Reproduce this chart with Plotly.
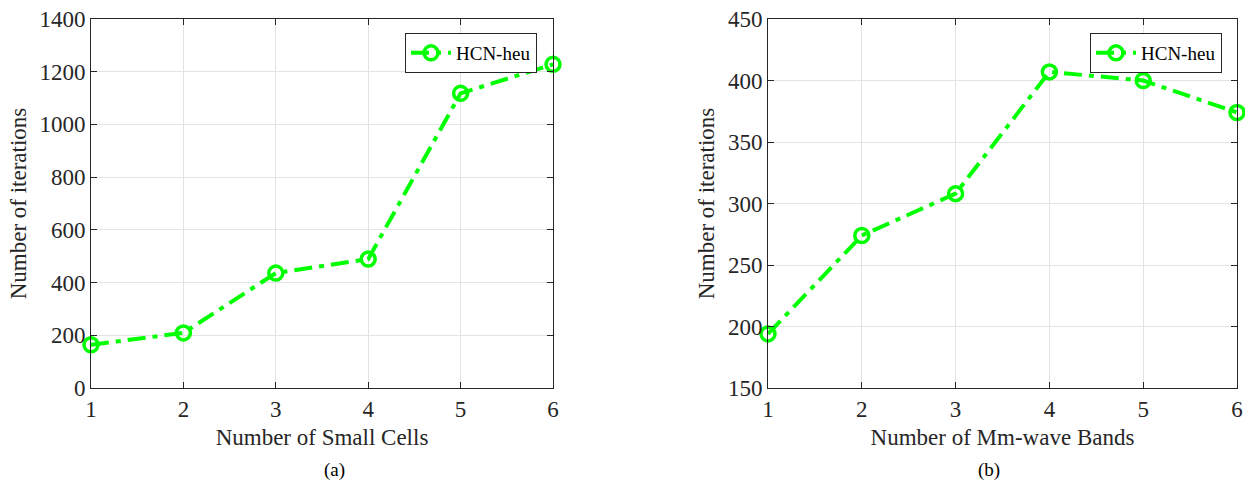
import plotly.graph_objects as go

x_a = [1, 2, 3, 4, 5, 6]
y_a = [164, 209, 436, 489, 1118, 1228]
x_b = [1, 2, 3, 4, 5, 6]
y_b = [194, 274, 308, 407, 400, 374]
series_name = "HCN-heu"
xlabel_a = "Number of Small Cells"
xlabel_b = "Number of Mm-wave Bands"
ylabel = "Number of iterations"

W, H = 1245, 487
GREEN = "#00ff00"
FONT = "Liberation Serif, Times New Roman, DejaVu Serif, serif"

fig = go.Figure()
for xs, ys, xa, ya, lg in [(x_a, y_a, "x", "y", "legend"), (x_b, y_b, "x2", "y2", "legend2")]:
    fig.add_trace(go.Scatter(
        x=xs, y=ys, xaxis=xa, yaxis=ya, name=series_name, legend=lg,
        mode="lines+markers", cliponaxis=False,
        line=dict(color=GREEN, width=4, dash="18px,7px,5px,7px"),
        marker=dict(symbol="circle-open", size=14, color=GREEN, line=dict(width=3.5, color=GREEN)),
    ))

ydom = [(H - 388) / H, (H - 19) / H]
common_axis = dict(
    showline=True, linecolor="#262626", linewidth=1, mirror="ticks",
    ticks="inside", ticklen=6, tickcolor="#262626", automargin=False,
    showgrid=True, gridcolor="#e3e3e3", gridwidth=1, zeroline=False,
    tickfont=dict(family=FONT, size=23, color="#262626"),
)

fig.update_layout(
    width=W, height=H, margin=dict(l=0, r=0, t=0, b=0, autoexpand=False),
    paper_bgcolor="white", plot_bgcolor="white",
    font=dict(family=FONT, color="#262626"),
    xaxis=dict(domain=[91 / W, 553 / W], range=[1, 6], dtick=1, anchor="y",
               title=dict(text=xlabel_a, font=dict(family=FONT, size=23), standoff=8), **common_axis),
    yaxis=dict(domain=ydom, range=[0, 1400], dtick=200, anchor="x",
               title=dict(text=ylabel, font=dict(family=FONT, size=23), standoff=6), **common_axis),
    xaxis2=dict(domain=[768 / W, 1237 / W], range=[1, 6], dtick=1, anchor="y2",
                title=dict(text=xlabel_b, font=dict(family=FONT, size=23), standoff=8), **common_axis),
    yaxis2=dict(domain=ydom, range=[150, 450], dtick=50, anchor="x2",
                title=dict(text=ylabel, font=dict(family=FONT, size=23), standoff=6), **common_axis),
    legend=dict(x=537 / W, y=1 - 33 / H, xanchor="right", yanchor="top",
                bordercolor="#262626", borderwidth=1, bgcolor="white",
                font=dict(family=FONT, size=19, color="black"), itemwidth=40),
    legend2=dict(x=1222 / W, y=1 - 33 / H, xanchor="right", yanchor="top",
                 bordercolor="#262626", borderwidth=1, bgcolor="white",
                 font=dict(family=FONT, size=19, color="black"), itemwidth=40),
    showlegend=True,
    annotations=[
        dict(text="(a)", x=322 / W, y=1 - 470 / H, xref="paper", yref="paper", yanchor="middle",
             showarrow=False, font=dict(family=FONT, size=19, color="black")),
        dict(text="(b)", x=1002 / W, y=1 - 470 / H, xref="paper", yref="paper", yanchor="middle",
             showarrow=False, font=dict(family=FONT, size=19, color="black")),
    ],
)

fig.write_html("out.html", post_script="document.body.style.margin='0';document.body.style.overflow='hidden';")
